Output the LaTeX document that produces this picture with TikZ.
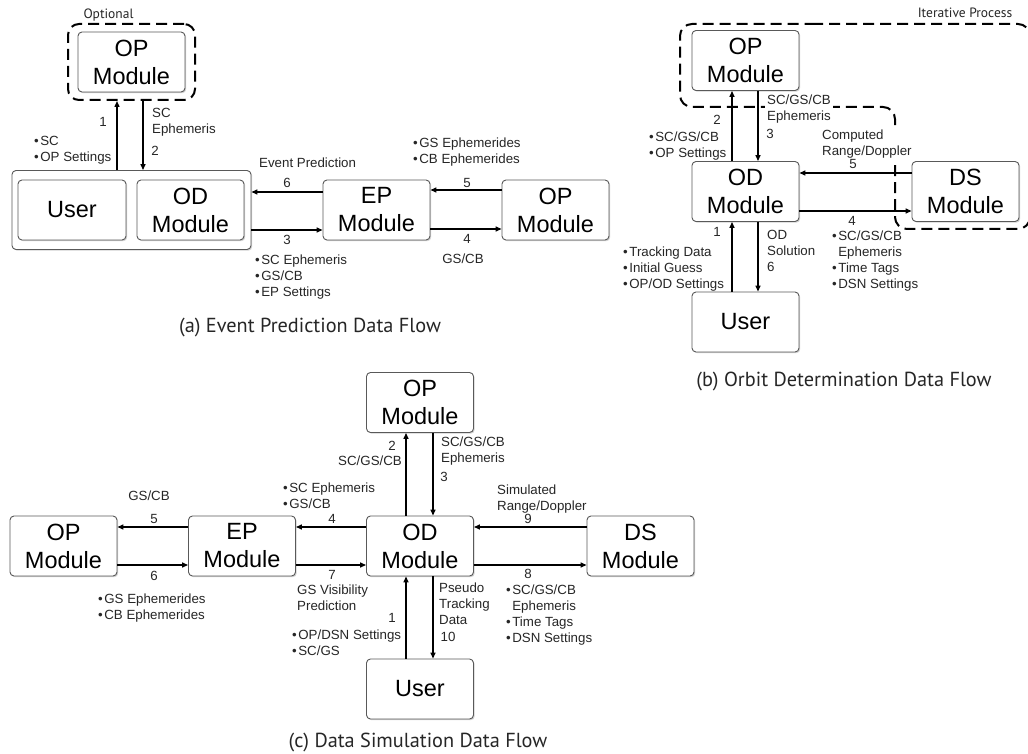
\documentclass[tikz,border=0pt]{standalone}
\usepackage{fontspec}
\setmainfont{Liberation Sans}
\newfontfamily\capfont{PT Sans}
\usetikzlibrary{arrows.meta,shadows}
\newcommand{\bu}{•\kern1.5pt}
\begin{document}
\begin{tikzpicture}[x=1pt,y=-1pt,
  box/.style={draw=black!65, line width=0.9pt, rounded corners=4pt, fill=white, inner sep=0pt,
    minimum width=107pt, minimum height=60pt, align=center, font=\fontsize{23.5}{28}\selectfont,
    drop shadow={shadow xshift=1.2pt, shadow yshift=-1.2pt, opacity=0.35}},
  arr/.style={line width=1.4pt, -{Triangle[length=6pt,width=5pt]}},
  lbl/.style={font=\fontsize{13.3}{16}\selectfont, inner sep=0pt, align=left, text=black!85},
  dashbox/.style={line width=2pt, dash pattern=on 11pt off 6pt},
  captxt/.style={font=\capfont\fontsize{20.3}{22}\selectfont, inner sep=0pt, text=black!85},
  notetxt/.style={font=\capfont\fontsize{13.5}{15}\selectfont, inner sep=0pt, text=black!85}]

\useasboundingbox[fill=white] (0,0) rectangle (1028,754);

% ---------------- panel (a)
\node[box, minimum width=239pt, minimum height=79pt] (aOuter) at (131.5,210) {};
\node[box, minimum width=108pt] (aUser) at (72,210) {User};
\node[box] (aOD) at (190.5,210) {OD\\Module};
\node[box] (aEP) at (376.5,210) {EP\\Module};
\node[box] (aOPr) at (555.5,210) {OP\\Module};
\node[dashbox, draw, rounded corners=11pt, minimum width=127pt, minimum height=76pt, inner sep=0pt] (aOpt) at (131.5,62) {};
\node[box] (aOPt) at (131.5,62) {OP\\Module};

\draw[arr] ([xshift=-14.5pt]aOuter.north) -- ([xshift=-14.5pt]aOpt.south);
\draw[arr] ([xshift=11.5pt]aOpt.south) -- ([xshift=11.5pt]aOuter.north);
\draw[arr] ([yshift=18pt]aEP.west) -- ([yshift=18pt]aOuter.east);
\draw[arr] ([yshift=-20pt]aOuter.east) -- ([yshift=-20pt]aEP.west);
\draw[arr] ([yshift=20pt]aOPr.west) -- ([yshift=20pt]aEP.east);
\draw[arr] ([yshift=-19pt]aEP.east) -- ([yshift=-19pt]aOPr.west);

\node[lbl] (a1) at (103,122) {1};
\node[lbl, anchor=north west] (aL1) at (34,136.5) {\bu SC\\\bu OP Settings};
\node[lbl, anchor=north west] (aL2) at (152,108.5) {SC\\Ephemeris};
\node[lbl] (a2) at (155,151) {2};
\node[lbl, anchor=west] (aL6) at (259,163) {Event Prediction};
\node[lbl] (a6) at (287,183) {6};
\node[lbl] (a3) at (287,240) {3};
\node[lbl, anchor=north west] (aL3) at (255,254.5) {\bu SC Ephemeris\\\bu GS/CB\\\bu EP Settings};
\node[lbl] (a5) at (467,183) {5};
\node[lbl] (a4) at (467,239) {4};
\node[lbl, anchor=north west] (aL5) at (413,137.5) {\bu GS Ephemerides\\\bu CB Ephemerides};
\node[lbl] (aL4) at (463,259) {GS/CB};
\node[notetxt] (aOptL) at (108.5,15) {Optional};
\node[captxt] (acap) at (310,328) {(a) Event Prediction Data Flow};

% ---------------- panel (b)
\draw[dashbox, rounded corners=12pt] (800,24) -- (1030,24) -- (1030,229) -- (895,229) -- (895,107) -- (680,107) -- (680,24) -- cycle;

\node[box] (bOP) at (745.5,60.5) {OP\\Module};
\node[box] (bOD) at (745.5,191.5) {OD\\Module};
\node[box] (bDS) at (965.5,191.5) {DS\\Module};
\node[box] (bUser) at (745.5,322) {User};

\draw[arr] ([xshift=-13.5pt]bOD.north) -- ([xshift=-13.5pt]bOP.south);
\draw[arr] ([xshift=12.5pt]bOP.south) -- ([xshift=12.5pt]bOD.north);
\draw[arr] ([xshift=-13.5pt]bUser.north) -- ([xshift=-13.5pt]bOD.south);
\draw[arr] ([xshift=12.5pt]bOD.south) -- ([xshift=12.5pt]bUser.north);
\draw[arr] ([yshift=18.5pt]bDS.west) -- ([yshift=18.5pt]bOD.east);
\draw[arr] ([yshift=-19.5pt]bOD.east) -- ([yshift=-19.5pt]bDS.west);

\node[notetxt] (bIt) at (965,13) {Iterative Process};
\node[lbl] (b2) at (717,120) {2};
\node[lbl, anchor=north west] (bL2) at (649,131.5) {\bu SC/GS/CB\\\bu OP Settings};
\node[lbl, anchor=north west, fill=white, inner sep=2pt] (bL3) at (765,92.5) {SC/GS/CB\\Ephemeris};
\node[lbl] (b3) at (770,134) {3};
\node[lbl, anchor=north west, fill=white, inner sep=2pt] (bL5) at (820,127.5) {Computed\\Range/Doppler};
\node[lbl] (b5) at (853,164) {5};
\node[lbl] (b4) at (852,221) {4};
\node[lbl, anchor=north west] (bL4) at (832,230.5) {\bu SC/GS/CB\\\phantom{\bu}Ephemeris\\\bu Time Tags\\\bu DSN Settings};
\node[lbl] (b1) at (717,232) {1};
\node[lbl, anchor=north west] (bL1) at (623,246.5) {\bu Tracking Data\\\bu Initial Guess\\\bu OP/OD Settings};
\node[lbl, anchor=north west] (bL6) at (767,230.5) {OD\\Solution\\6};
\node[captxt] (bcap) at (844,382) {(b) Orbit Determination Data Flow};

% ---------------- panel (c)
\node[box] (cOP) at (420,402.5) {OP\\Module};
\node[box] (cOD) at (420,546) {OD\\Module};
\node[box] (cEP) at (242,546) {EP\\Module};
\node[box] (cOPl) at (63.5,546) {OP\\Module};
\node[box] (cDS) at (640.5,546) {DS\\Module};
\node[box] (cUser) at (420,689) {User};

\draw[arr] ([xshift=-14pt]cOD.north) -- ([xshift=-14pt]cOP.south);
\draw[arr] ([xshift=13pt]cOP.south) -- ([xshift=13pt]cOD.north);
\draw[arr] ([xshift=-14pt]cUser.north) -- ([xshift=-14pt]cOD.south);
\draw[arr] ([xshift=13pt]cOD.south) -- ([xshift=13pt]cUser.north);
\draw[arr] ([yshift=19pt]cOD.west) -- ([yshift=19pt]cEP.east);
\draw[arr] ([yshift=19pt]cEP.west) -- ([yshift=19pt]cOPl.east);
\draw[arr] ([yshift=-19pt]cOPl.east) -- ([yshift=-19pt]cEP.west);
\draw[arr] ([yshift=-19pt]cEP.east) -- ([yshift=-19pt]cOD.west);
\draw[arr] ([yshift=19pt]cDS.west) -- ([yshift=19pt]cOD.east);
\draw[arr] ([yshift=-19pt]cOD.east) -- ([yshift=-19pt]cDS.west);

\node[lbl] (c2) at (392,446) {2};
\node[lbl, anchor=east] (cL2) at (402,461) {SC/GS/CB};
\node[lbl, anchor=north west] (cL3) at (441,436.5) {SC/GS/CB\\Ephemeris};
\node[lbl] (c3) at (444,477) {3};
\node[lbl, anchor=north west] (cL4) at (283,482.5) {\bu SC Ephemeris\\\bu GS/CB};
\node[lbl] (c4) at (332,519) {4};
\node[lbl] (cL5) at (149,496) {GS/CB};
\node[lbl] (c5) at (154,519) {5};
\node[lbl] (c6) at (154,576) {6};
\node[lbl, anchor=north west] (cL6) at (98,593.5) {\bu GS Ephemerides\\\bu CB Ephemerides};
\node[lbl] (c7) at (332,575) {7};
\node[lbl, anchor=north west] (cL7) at (297,584.5) {GS Visibility\\Prediction};
\node[lbl] (c1) at (392,618) {1};
\node[lbl, anchor=north west] (cL1) at (292,629.5) {\bu OP/DSN Settings\\\bu SC/GS};
\node[lbl, anchor=north west] (cL10) at (439,582.5) {Pseudo\\Tracking\\Data};
\node[lbl] (c10) at (448,637) {10};
\node[lbl, anchor=north west] (cL9) at (497,484.5) {Simulated\\Range/Doppler};
\node[lbl] (c9) at (528,519) {9};
\node[lbl] (c8) at (528,574) {8};
\node[lbl, anchor=north west] (cL8) at (506,584.5) {\bu SC/GS/CB\\\phantom{\bu}Ephemeris\\\bu Time Tags\\\bu DSN Settings};
\node[captxt] (ccap) at (418,742) {(c) Data Simulation Data Flow};
\end{tikzpicture}
\end{document}
